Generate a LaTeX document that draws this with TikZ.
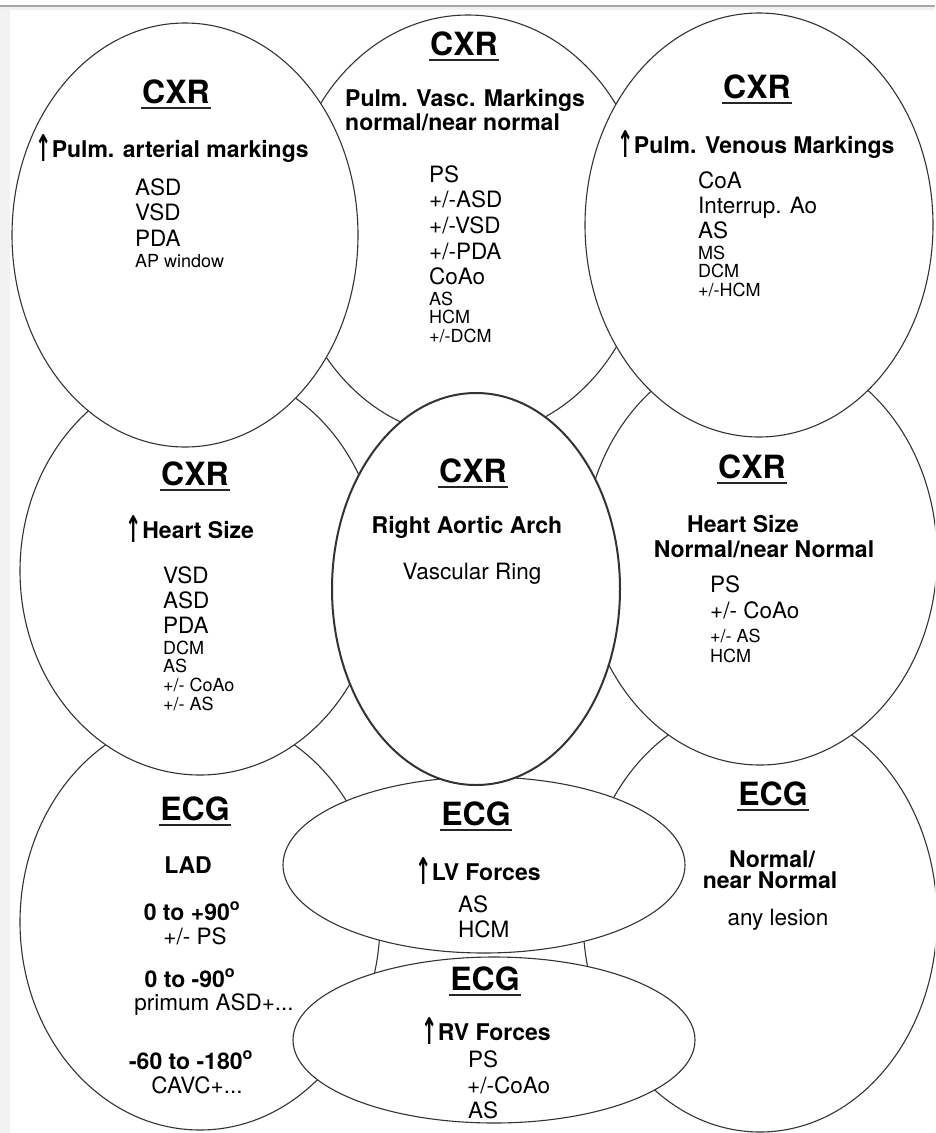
\documentclass[tikz,border=0pt]{standalone}
\usepackage{graphicx}
\usepackage{fontspec}
\setmainfont{TeX Gyre Heros}
\newfontfamily\arrowfont{DejaVu Sans}
\usetikzlibrary{shapes.geometric}

\newcommand{\up}{\raisebox{-4.5pt}{\scalebox{0.85}[1.6]{\arrowfont\char"2191}}}

\tikzset{
  blob/.style={ellipse, draw=black!80, line width=1.1pt, fill=white, inner sep=0pt},
  head/.style={inner sep=0pt, anchor=base, font=\fontsize{32}{36}\selectfont\bfseries,
    append after command={([xshift=-1pt,yshift=-4.5pt]\tikzlastnode.base west)
      edge[draw=black!85, line width=2pt] ([xshift=1pt,yshift=-4.5pt]\tikzlastnode.base east)}},
  sub/.style={inner sep=0pt, anchor=base, font=\fontsize{23}{26}\selectfont\bfseries},
  item/.style={inner sep=0pt, anchor=base west, font=\fontsize{22.5}{26}\selectfont},
  small/.style={inner sep=0pt, anchor=base west, font=\fontsize{18}{21}\selectfont},
}

\begin{document}
\begin{tikzpicture}[x=1pt, y=-1pt]
  \useasboundingbox (0,0) rectangle (935,1133);
  \clip (0,0) rectangle (935,1133);
  % page edge
  \fill[gray!12] (0,6) rectangle (935,10);
  \fill[gray!10] (0,10) rectangle (10,1133);
  \draw[gray!70, line width=1.5pt] (0,6) -- (935,6);

  % back ones first, later ones cover them
  \node[blob, minimum width=360pt, minimum height=416pt] (bl) at (200,922) {};
  \node[blob, minimum width=354pt, minimum height=428pt] (br) at (760,918) {};
  \node[blob, minimum width=360pt, minimum height=408pt] (ml) at (200,571) {};
  \node[blob, minimum width=354pt, minimum height=418pt] (mr) at (760,556) {};
  \node[blob, minimum width=362pt, minimum height=422pt] (tc) at (468,226) {};
  \node[blob, minimum width=346pt, minimum height=424pt] (tl) at (185,235) {};
  \node[blob, minimum width=348pt, minimum height=424pt] (tr) at (759,225) {};
  \node[blob, minimum width=402pt, minimum height=176pt] (lv) at (484,865) {};
  \node[blob, minimum width=402pt, minimum height=166pt] (rv) at (494,1040) {};
  \node[blob, line width=2pt, minimum width=288pt, minimum height=392pt] (cc) at (476,589) {};

  % top left
  \node[head] (tl-head) at (176,103) {CXR};
  \node[sub] (tl-sub) at (172,157) {\up Pulm. arterial markings};
  \foreach \t [count=\i from 0] in {ASD,VSD,PDA}
    \node[item] (tl-\i) at (135,195+25.5*\i) {\t};
  \node[small] (tl-3) at (135,267) {AP window};

  % top centre
  \node[head] (tc-head) at (464,55) {CXR};
  \node[sub, anchor=base west] (tc-sub1) at (345,106) {Pulm. Vasc. Markings};
  \node[sub, anchor=base west] (tc-sub2) at (345,130) {normal/near normal};
  \foreach \t [count=\i from 0] in {PS,+/-ASD,+/-VSD,+/-PDA,CoAo}
    \node[item] (tc-\i) at (429,182+25.7*\i) {\t};
  \foreach \t [count=\i from 5] in {AS,HCM,+/-DCM}
    \node[small] (tc-\i) at (429,305+18.5*\i-92.5) {\t};

  % top right
  \node[head] (tr-head) at (757,98) {CXR};
  \node[sub] (tr-sub) at (756,153) {\up Pulm. Venous Markings};
  \foreach \t [count=\i from 0] in {CoA,Interrup. Ao,AS}
    \node[item] (tr-\i) at (698,188+25*\i) {\t};
  \foreach \t [count=\i from 3] in {MS,DCM,+/-HCM}
    \node[small] (tr-\i) at (698,259+18.5*\i-55.5) {\t};

  % middle left
  \node[head] (ml-head) at (195,485) {CXR};
  \node[sub] (ml-sub) at (190,538) {\up Heart Size};
  \foreach \t [count=\i from 0] in {VSD,ASD,PDA}
    \node[item] (ml-\i) at (163,583+25*\i) {\t};
  \foreach \t [count=\i from 3] in {DCM,AS,+/- CoAo,+/- AS}
    \node[small] (ml-\i) at (163,654+18.7*\i-56.1) {\t};

  % centre
  \node[head] (cc-head) at (473,482) {CXR};
  \node[sub] (cc-sub) at (467,533) {Right Aortic Arch};
  \node[item, anchor=base] (cc-0) at (472,579) {Vascular Ring};

  % middle right
  \node[head] (mr-head) at (752,478) {CXR};
  \node[sub] (mr-sub1) at (743,532) {Heart Size};
  \node[sub] (mr-sub2) at (764,557) {Normal/near Normal};
  \node[item] (mr-0) at (710,592) {PS};
  \node[item] (mr-1) at (710,618) {+/- CoAo};
  \node[small] (mr-2) at (710,642) {+/- AS};
  \node[small] (mr-3) at (710,662) {HCM};

  % bottom left
  \node[head] (bl-head) at (195,820) {ECG};
  \node[sub] (bl-sub) at (188,873) {LAD};
  \node[sub] (bl-ax1) at (192,920) {0 to +90\textsuperscript{o}};
  \node[item, anchor=base] (bl-0) at (195,944) {+/- PS};
  \node[sub] (bl-ax2) at (190,987) {0 to -90\textsuperscript{o}};
  \node[item, anchor=base] (bl-1) at (214,1010) {primum ASD+...};
  \node[sub] (bl-ax3) at (191,1069) {-60 to -180\textsuperscript{o}};
  \node[item, anchor=base] (bl-2) at (197,1093) {CAVC+...};

  % LV forces
  \node[head] (lv-head) at (476,825) {ECG};
  \node[sub] (lv-sub) at (478,880) {\up LV Forces};
  \node[item] (lv-0) at (458,912) {AS};
  \node[item] (lv-1) at (458,937) {HCM};

  % RV forces
  \node[head] (rv-head) at (485,990) {ECG};
  \node[sub] (rv-sub) at (486,1040) {\up RV Forces};
  \node[item] (rv-0) at (468,1067) {PS};
  \node[item] (rv-1) at (467,1093) {+/-CoAo};
  \node[item] (rv-2) at (468,1118) {AS};

  % bottom right
  \node[head] (br-head) at (773,805) {ECG};
  \node[sub] (br-sub1) at (772,867) {Normal/};
  \node[sub] (br-sub2) at (770,888) {near Normal};
  \node[item, anchor=base] (br-0) at (778,925) {any lesion};
\end{tikzpicture}
\end{document}
